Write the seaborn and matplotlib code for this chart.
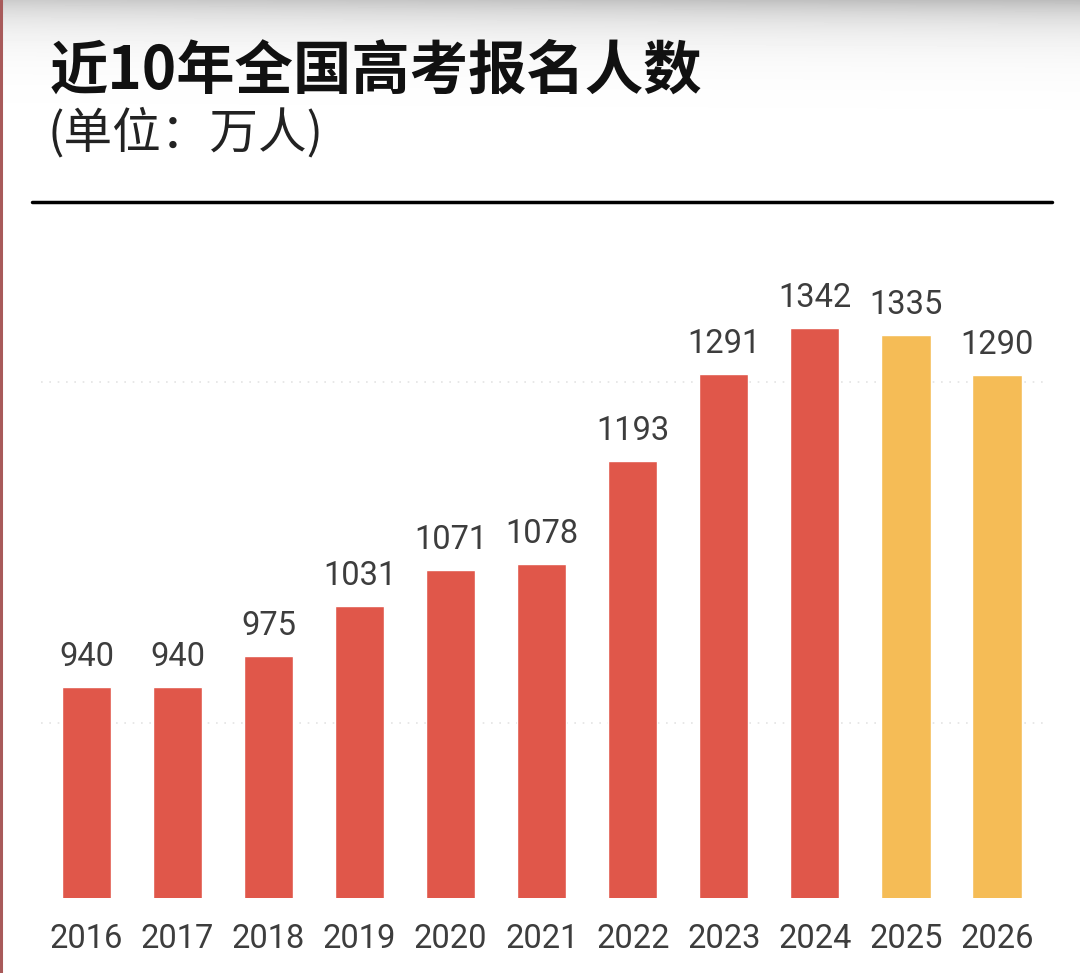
import matplotlib
matplotlib.use('Agg')
import matplotlib.pyplot as plt
import seaborn as sns
import numpy as np
from matplotlib.lines import Line2D

# ---- data ----
years = ['2016', '2017', '2018', '2019', '2020', '2021', '2022', '2023', '2024', '2025', '2026']
values = [940, 940, 975, 1031, 1071, 1078, 1193, 1291, 1342, 1335, 1290]
bar_colors = ['#E0574A'] * 9 + ['#F5BC56'] * 2
grid_values = [900, 1282]
title = '近10年全国高考报名人数'
subtitle = '(单位：万人)'

sns.set_theme(style='white')
plt.rcParams['font.family'] = ['Noto Sans CJK SC', 'DejaVu Sans']

W, H = 1080, 973
fig = plt.figure(figsize=(W / 100, H / 100), dpi=100)
fig.patch.set_facecolor('white')

# subtle grey gradient at top (screenshot look)
bg = fig.add_axes([0, 0, 1, 1], zorder=-10)
yy = np.arange(H)[:, None]
xx = np.linspace(0, 1, W)[None, :]
shade = 1 - (0.20 + 0.06 * xx) * np.exp(-yy / 26.0)
bg.imshow(shade, cmap='gray', vmin=0, vmax=1, aspect='auto', extent=[0, 1, 0, 1], origin='upper')
bg.set_axis_off()

# main axes
ax = fig.add_axes([41 / W, (H - 898) / H, (1042.5 - 41) / W, (898 - 215) / H])
ax.set_facecolor('none')
sns.barplot(x=years, y=values, hue=years, palette=bar_colors, legend=False,
            width=0.54, saturation=1, ax=ax)
ax.set_ylim(704, 704 + 683 / 0.893)
ax.set_xlim(-0.5, len(years) - 0.5)

for c in ax.containers:
    ax.bar_label(c, fmt='%d', padding=10, fontsize=23.5, color='#3d3d3d', family='Roboto')

ax.set_yticks(grid_values)
ax.set_yticklabels([])
ax.yaxis.grid(True, linestyle=(0, (1, 4)), color='#e4e4e4', linewidth=1.2)
ax.set_axisbelow(True)
ax.tick_params(axis='x', length=0, pad=18, labelsize=23.5, labelcolor='#3d3d3d')
ax.tick_params(axis='y', length=0)
for lab in ax.get_xticklabels():
    lab.set_family('Roboto')
ax.set_xlabel('')
ax.set_ylabel('')
for s in ax.spines.values():
    s.set_visible(False)

# titles
fig.text(50 / W, 1 - 72 / H, title, fontsize=42, fontweight='black', va='center', ha='left', color='#111111')
fig.text(48 / W, 1 - 133 / H, subtitle, fontsize=35, va='center', ha='left', color='#222222')

# rule line and left border
fig.add_artist(Line2D([32 / W, 1052 / W], [1 - 202 / H] * 2, color='black', lw=2.5))
fig.add_artist(Line2D([1.2 / W, 1.2 / W], [0, 1], color='#a85a5a', lw=2.2))

fig.savefig('out.png', dpi=100)
